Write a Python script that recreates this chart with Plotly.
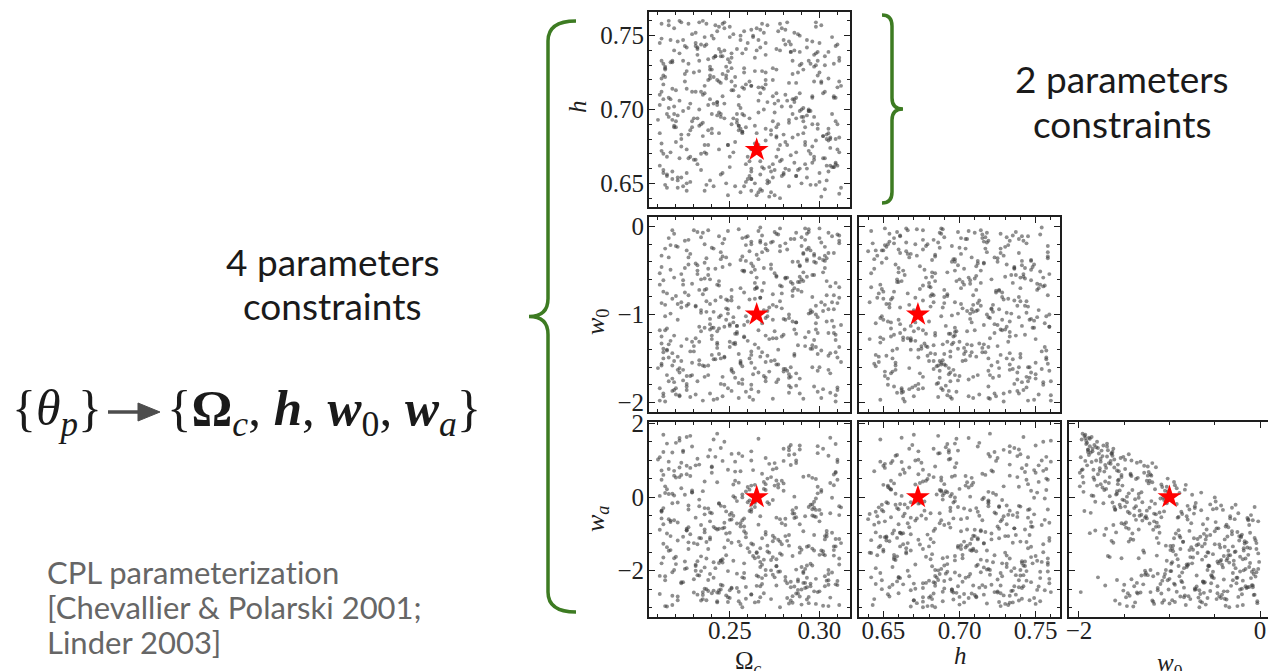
import plotly.graph_objects as go

W, H = 1268, 671

# Prior samples of the four CPL cosmological parameters (one entry per sample)
omega_c = [
    .231, .287, .254, .219, .302, .268, .243, .295, .212, .276, .261, .238, .308, .225, .283, .249, .271, .216, .299, .257,
    .292, .224, .266, .241, .311, .233, .279, .252, .218, .305, .246, .288, .227, .263, .297, .214, .274, .236, .259, .301,
    .248, .306, .221, .284, .239, .262, .213, .293, .272, .229, .256, .310, .244, .267, .222, .289, .235, .281, .253, .217,
    .277, .245, .298, .226, .264, .309, .237, .251, .286, .215, .269, .232, .303, .258, .291, .220, .275, .247, .307, .234,
    .260, .213, .282, .250, .296, .228, .270, .304, .242, .285, .211, .265, .239, .294, .255, .223, .300, .273, .230, .289,
    .218, .303, .240, .278, .256, .212, .291, .246, .268, .225, .309, .262, .283, .236, .297, .249, .216, .280, .258, .311,
    .271, .235, .300, .221, .287, .253, .243, .306, .227, .264, .292, .219, .274, .248, .232, .299, .261, .214, .285, .241,
    .305, .250, .226, .276, .213, .294, .259, .237, .283, .311, .245, .269, .222, .302, .254, .290, .233, .266, .217, .279,
    .244, .288, .262, .210, .298, .231, .273, .255, .220, .307, .239, .284, .265, .228, .295, .247, .278, .312, .236, .257,
    .224, .296, .251, .282, .215, .267, .240, .304, .229, .275, .258, .293, .218, .249, .310, .234, .270, .286, .221, .263,
    .299, .238, .272, .216, .290, .255, .227, .308, .264, .243, .281, .212, .297, .252, .235, .277, .301, .219, .268, .246,
    .257, .310, .233, .265, .246, .284, .211, .273, .296, .237, .260, .303, .224, .288, .250, .214, .292, .241, .279, .226,
    .282, .221, .297, .243, .276, .230, .307, .253, .217, .269, .289, .236, .258, .311, .229, .266, .247, .295, .213, .274,
    .236, .270, .215, .301, .259, .287, .242, .223, .294, .263, .211, .280, .248, .305, .271, .226, .285, .254, .309, .232,
    .266, .244, .289, .227, .309, .251, .275, .212, .283, .240, .298, .256, .222, .277, .244, .302, .218, .261, .291, .238,
    .213, .294, .255, .281, .234, .262, .298, .245, .219, .286, .267, .231, .306, .252, .278, .215, .293, .239, .270, .304,
    .285, .228, .268, .310, .241, .217, .274, .300, .257, .233, .295, .249, .271, .220, .287, .262, .236, .309, .247, .278,
    .249, .302, .223, .260, .290, .269, .235, .286, .212, .312, .244, .276, .259, .299, .238, .281, .226, .266, .293, .216,
    .293, .262, .240, .214, .277, .304, .252, .228, .288, .267, .223, .301, .243, .264, .211, .291, .254, .232, .284, .308,
    .229, .276, .311, .256, .237, .283, .218, .296, .270, .247, .306, .231, .289, .215, .258, .275, .300, .245, .223, .261,
    .274, .216, .287, .242, .298, .226, .264, .251, .309, .234, .280, .257, .213, .296, .268, .240, .285, .219, .303, .250,
    .238, .291, .259, .308, .221, .273, .246, .212, .284, .262, .230, .297, .255, .278, .224, .311, .243, .267, .236, .289,
    .303, .253, .225, .272, .290, .239, .281, .266, .227, .299, .248, .214, .276, .258, .305, .232, .262, .294, .250, .220,
    .256, .280, .305, .233, .262, .211, .296, .244, .274, .218, .287, .265, .310, .241, .226, .283, .251, .213, .270, .298,
    .219, .245, .279, .297, .251, .308, .234, .270, .257, .292, .239, .222, .264, .286, .245, .212, .305, .276, .231, .267,
]

h = [
    .712, .655, .741, .688, .667, .726, .703, .649, .758, .681, .694, .734, .661, .719, .746, .676, .652, .708, .739, .685,
    .663, .747, .698, .722, .643, .689, .755, .671, .714, .658, .736, .683, .701, .749, .666, .728, .692, .645, .717, .757,
    .729, .681, .652, .744, .707, .660, .723, .696, .641, .751, .687, .715, .673, .656, .738, .699, .760, .678, .648, .732,
    .690, .718, .759, .657, .677, .743, .649, .735, .705, .668, .752, .694, .646, .725, .684, .713, .659, .740, .697, .670,
    .745, .670, .706, .732, .690, .651, .717, .680, .757, .697, .662, .740, .727, .672, .703, .654, .745, .686, .725, .660,
    .653, .736, .684, .665, .750, .712, .695, .758, .645, .724, .708, .653, .691, .743, .668, .734, .701, .656, .753, .719,
    .705, .691, .725, .647, .718, .678, .753, .662, .731, .689, .676, .755, .709, .650, .742, .687, .665, .729, .681, .748,
    .739, .661, .673, .711, .659, .700, .688, .744, .693, .735, .656, .714, .760, .682, .697, .650, .733, .706, .671, .702,
    .684, .751, .716, .693, .738, .666, .644, .709, .678, .749, .721, .669, .684, .704, .731, .759, .676, .647, .716, .738,
    .648, .708, .738, .676, .655, .754, .727, .683, .712, .642, .696, .747, .658, .726, .662, .690, .720, .752, .696, .674,
    .723, .676, .661, .757, .700, .686, .667, .731, .650, .720, .744, .677, .737, .694, .710, .673, .641, .697, .758, .709,
    .697, .744, .700, .642, .724, .739, .710, .658, .746, .670, .653, .730, .699, .659, .756, .722, .688, .735, .666, .650,
    .759, .654, .729, .705, .682, .694, .661, .722, .707, .660, .739, .711, .648, .733, .688, .644, .755, .670, .707, .728,
    .671, .725, .647, .719, .741, .655, .736, .675, .699, .750, .684, .657, .721, .679, .650, .742, .707, .691, .664, .741,
    .715, .698, .750, .683, .663, .728, .704, .748, .659, .687, .730, .701, .667, .753, .719, .682, .733, .655, .701, .686,
    .657, .733, .689, .754, .712, .673, .649, .695, .740, .707, .665, .752, .680, .713, .740, .697, .660, .723, .745, .652,
    .733, .668, .715, .690, .648, .747, .720, .657, .685, .726, .699, .642, .757, .692, .671, .716, .749, .680, .694, .758,
    .676, .711, .759, .668, .731, .700, .682, .740, .672, .716, .756, .688, .651, .733, .703, .660, .714, .747, .654, .695,
    .742, .645, .697, .727, .706, .662, .751, .686, .725, .646, .680, .718, .696, .674, .745, .727, .693, .663, .739, .708,
    .692, .727, .681, .644, .758, .718, .693, .664, .737, .704, .674, .745, .711, .656, .728, .698, .651, .736, .683, .719,
    .654, .760, .708, .736, .679, .645, .726, .713, .692, .659, .747, .684, .731, .709, .661, .750, .724, .689, .712, .668,
    .720, .692, .663, .709, .746, .683, .657, .733, .702, .754, .666, .719, .689, .640, .733, .671, .705, .742, .676, .730,
    .667, .716, .743, .651, .695, .729, .710, .676, .758, .690, .723, .649, .741, .714, .684, .737, .658, .699, .749, .688,
    .747, .683, .721, .759, .653, .703, .675, .741, .663, .732, .694, .755, .673, .704, .726, .648, .690, .717, .679, .756,
    .702, .739, .655, .695, .719, .661, .744, .687, .715, .678, .652, .706, .735, .664, .697, .721, .687, .668, .743, .711,
]

w0 = [
    -0.42, -1.67, -1.13, -0.08, -1.85, -0.73, -1.38, -0.27, -1.56, -0.91, -1.94, -0.55, -1.21, -0.16, -1.72, -0.84, -1.47, -0.35, -1.03, -1.79,
    -1.26, -0.61, -1.88, -0.97, -0.19, -1.52, -0.68, -1.09, -0.04, -1.63, -0.46, -1.35, -0.88, -1.97, -0.31, -1.18, -0.77, -1.59, -0.12, -1.41,
    -0.83, -1.44, -0.23, -1.71, -1.05, -0.52, -1.90, -0.37, -1.28, -0.65, -1.53, -0.09, -1.16, -0.81, -1.66, -0.44, -1.98, -0.58, -1.32, -0.21,
    -1.57, -0.29, -1.00, -1.82, -0.49, -1.23, -0.71, -1.62, -0.14, -1.40, -0.95, -1.76, -0.33, -1.12, -0.62, -1.91, -0.06, -1.49, -0.86, -1.19,
    -0.11, -1.93, -0.58, -1.31, -0.80, -1.70, -0.25, -1.08, -1.51, -0.40, -1.84, -0.70, -1.17, -0.03, -1.45, -0.92, -1.60, -0.18, -1.36, -0.63,
    -1.73, -0.47, -1.24, -0.02, -1.55, -0.87, -1.96, -0.34, -1.10, -0.75, -1.43, -0.20, -1.81, -0.59, -1.29, -0.99, -0.13, -1.65, -0.51, -1.37,
    -0.96, -1.58, -0.36, -1.48, -0.07, -1.22, -0.66, -1.89, -0.43, -1.34, -0.15, -1.77, -0.89, -1.06, -0.54, -1.64, -0.28, -1.99, -0.79, -1.15,
    -0.30, -1.11, -1.79, -0.56, -1.39, -0.24, -1.02, -0.85, -1.68, -0.10, -1.50, -0.64, -1.92, -0.38, -1.20, -0.74, -1.57, -0.05, -1.30, -0.93,
    -1.45, -0.72, -0.17, -1.61, -0.90, -1.27, -0.48, -1.95, -0.22, -1.07, -0.60, -1.83, -0.32, -1.42, -0.98, -1.14, -0.67, -1.54, -0.41, -1.74,
    -0.66, -1.35, -1.87, -0.26, -1.16, -0.01, -1.46, -0.78, -1.69, -0.53, -1.25, -0.39, -1.58, -0.94, -1.86, -0.12, -1.04, -0.70, -1.63, -0.45,
    -1.21, -0.04, -0.92, -1.49, -0.60, -1.78, -0.35, -1.14, -0.82, -1.96, -0.19, -1.33, -0.55, -1.66, -0.07, -1.40, -0.86, -1.24, -0.29, -1.71,
    -0.50, -1.83, -1.31, -0.69, -1.93, -0.14, -1.18, -0.43, -1.60, -0.97, -1.08, -0.23, -1.75, -0.63, -1.37, -0.89, -0.02, -1.51, -0.76, -1.28,
    -1.64, -0.88, -0.33, -1.19, -0.57, -1.42, -0.11, -1.72, -0.99, -0.47, -1.90, -0.72, -1.26, -0.16, -1.55, -0.37, -1.80, -0.95, -0.61, -1.06,
    -0.20, -1.54, -0.76, -1.95, -0.39, -1.09, -0.84, -1.36, -0.06, -1.68, -0.53, -1.23, -0.93, -1.47, -0.27, -1.86, -0.65, -1.13, -1.99, -0.44,
    -1.38, -0.62, -1.73, -0.15, -1.29, -0.80, -1.52, -0.46, -1.89, -0.24, -1.17, -0.70, -1.61, -0.09, -1.03, -0.52, -1.44, -0.83, -0.31, -1.58,
    -0.74, -1.20, -0.03, -1.62, -0.95, -1.85, -0.41, -1.01, -0.58, -1.47, -0.18, -1.91, -0.68, -1.33, -0.85, -1.69, -0.26, -1.11, -1.76, -0.36,
    -1.08, -0.31, -1.43, -0.87, -1.97, -0.49, -1.27, -0.13, -1.59, -0.72, -1.39, -0.05, -1.02, -0.79, -1.81, -0.42, -1.15, -0.64, -1.48, -0.22,
    -1.84, -0.96, -0.54, -1.30, -0.12, -1.70, -0.77, -1.45, -0.33, -1.12, -0.67, -1.57, -0.21, -1.88, -0.48, -1.06, -0.90, -1.66, -0.08, -1.34,
    -0.57, -1.46, -1.15, -0.25, -1.74, -0.62, -1.03, -1.94, -0.40, -0.81, -1.53, -0.18, -1.32, -0.71, -1.98, -0.30, -1.22, -0.50, -1.60, -0.94,
    -1.31, -0.08, -0.69, -1.56, -0.36, -1.00, -1.87, -0.55, -1.24, -0.14, -1.67, -0.91, -0.45, -1.41, -0.75, -1.19, -0.02, -1.79, -0.86, -1.50,
    -0.17, -1.76, -1.09, -0.48, -1.37, -0.27, -1.61, -0.84, -1.92, -0.60, -1.05, -0.34, -1.50, -0.97, -0.10, -1.28, -0.73, -1.86, -0.39, -1.13,
    -1.69, -0.52, -1.88, -0.78, -1.06, -1.53, -0.19, -1.25, -0.63, -1.42, -0.04, -1.82, -0.92, -0.28, -1.63, -0.81, -1.34, -0.16, -1.71, -0.57,
    -0.89, -1.34, -0.47, -1.65, -0.22, -1.90, -0.59, -1.18, -0.78, -1.45, -0.35, -1.02, -1.77, -0.50, -1.21, -0.06, -1.55, -0.99, -0.43, -1.84,
    -0.38, -1.62, -0.94, -1.14, -1.80, -0.66, -1.39, -0.11, -1.96, -0.82, -1.22, -0.58, -1.49, -0.25, -1.70, -1.04, -0.72, -1.43, -0.20, -1.10,
    -1.53, -0.80, -1.25, -0.40, -1.64, -0.30, -0.98, -1.72, -0.13, -1.36, -0.88, -1.93, -0.64, -1.17, -0.37, -1.58, -0.07, -1.27, -0.90, -1.48,
]

wa = [
    -1.84, 0.92, -2.47, -0.63, 1.31, -1.12, -2.86, -0.21, 0.47, -1.69, -0.38, -2.55, 0.61, -1.95, -1.03, -2.72, -0.14, -1.46, 0.28, -2.18,
    -0.52, -2.31, 1.58, -1.77, -2.93, -0.07, -1.28, 0.34, -2.04, 1.12, -0.85, -2.62, -1.41, 0.73, -0.29, -2.15, -1.63, -0.96, -2.44, 0.19,
    -2.67, -0.44, -1.18, 0.87, -2.09, -0.33, 1.22, -2.78, -1.51, 0.12, -0.71, -2.39, -0.18, -1.90, 0.54, -1.37, -2.58, -0.59, 0.96, -1.06,
    0.35, -1.73, -2.22, -0.91, -0.12, 0.68, -2.50, -1.24, -0.57, -2.97, 0.41, 1.04, -1.58, -0.80, -2.33, 1.47, -1.11, -0.26, -2.05, -2.81,
    -1.39, 1.69, -2.74, -0.48, -1.86, 0.79, -0.95, -2.27, 1.09, -1.60, 0.03, -2.13, -0.66, -2.88, -1.21, 0.24, -0.35, -1.99, -2.59, -0.74,
    -0.17, -2.42, 0.83, -1.53, -2.90, -0.40, 0.55, -1.78, -2.36, 0.06, -1.14, -2.64, 1.35, -0.88, -1.45, -2.01, -0.60, 0.98, -2.20, -0.25,
    -1.32, 0.16, -2.56, -0.69, -1.97, 0.44, -2.83, 1.61, -0.23, -1.66, -2.47, 0.71, -1.05, -0.39, -2.12, 1.19, -1.49, 0.29, -2.69, -0.81,
    -2.26, -0.97, 0.62, -1.87, -0.30, -2.71, 0.15, -1.22, 1.27, -0.49, -2.38, -1.70, 1.53, -2.95, -0.11, -1.43, 0.88, -2.16, -0.64, -1.57,
    -0.86, -2.52, -1.26, 1.02, -0.54, -2.00, -2.77, 0.39, -1.62, -0.02, -1.15, 1.41, -2.41, 0.57, -1.81, -0.70, -2.99, -0.28, -1.91, 1.11,
    -1.08, 0.52, -0.43, -2.34, 0.21, -1.76, -2.61, -0.92, 1.37, -2.18, -0.58, -1.35, 0.09, -2.85, 0.95, -0.76, -1.98, -2.43, -0.15, -1.29,
    -2.58, -1.41, -0.19, 0.76, -2.92, 1.18, -0.82, -1.59, 0.33, 1.72, -2.27, -0.37, -1.03, 0.02, -2.66, -1.16, -0.46, 0.58, -1.84, -2.40,
    -0.01, 0.47, -2.13, -1.52, 0.98, -2.45, -0.89, -1.71, -0.33, -2.80, 0.27, -1.06, 1.26, -2.29, -0.62, 0.11, -1.95, -2.54, -0.71, 0.85,
    -1.19, -2.70, -0.52, 0.40, -1.88, -2.23, -0.97, 0.69, -1.44, -2.61, 1.29, -0.30, -2.06, -1.67, 0.18, -0.75, 1.50, -2.35, -1.27, -0.08,
    -2.49, 1.06, -1.36, 0.14, -2.76, -0.55, -1.93, 0.93, -0.27, -1.60, -2.14, 0.37, -0.99, -2.96, -1.48, 1.63, -0.36, -2.08, 0.66, -1.74,
    -0.06, -2.60, 1.40, -1.23, -2.37, -0.61, 0.31, -1.80, 1.14, -0.44, -2.90, -1.31, 0.80, -2.03, -0.17, -1.55, -2.68, 0.20, -0.93, -2.25,
    -1.64, 0.58, -2.83, -0.76, -1.12, 1.24, -0.35, -2.51, -1.98, 0.01, -1.39, 0.86, -2.73, -0.51, -1.21, 1.45, -2.19, -0.42, 0.35, -1.07,
    -2.87, -1.01, 0.63, -2.28, 1.56, -0.68, -2.11, -1.57, 0.07, -0.25, -2.42, -1.17, 0.50, -1.82, 0.99, -2.65, -0.47, -1.34, -0.83, -2.02,
    0.74, -1.47, -2.34, -0.14, -1.90, 0.22, -2.77, 1.16, -0.58, -1.25, -2.53, 0.45, -1.09, 1.38, -0.31, -2.17, -0.90, -1.63, -2.45, 0.08,
    -1.86, -0.40, 0.81, -2.96, 0.26, -1.00, -1.73, 1.66, -2.24, -0.52, 0.60, -1.45, -2.59, -0.16, 1.08, -2.06, -0.72, -1.28, -2.81, 0.32,
    0.13, -2.40, -1.14, 0.70, -1.67, -2.89, 1.21, -0.20, -2.12, -1.37, 0.38, -0.56, -2.70, -0.99, -1.80, 0.92, -0.66, 1.33, -2.31, -0.09,
    -1.20, 0.96, -2.62, -0.85, 0.49, -1.93, -0.27, -2.46, 1.44, -1.61, 0.17, -2.99, -0.74, -1.40, -2.20, 0.66, -0.45, 0.04, -1.15, -2.53,
    1.10, -2.03, -0.98, -1.44, -2.80, 0.54, -1.69, -0.37, -2.30, 0.99, -1.25, -0.13, -2.57, -0.60, 1.22, -1.83, -0.88, -2.42, 0.42, -1.51,
    -2.15, -0.02, -1.75, 0.90, -2.51, 1.28, -1.06, -2.84, -0.34, 0.10, -1.58, -2.26, 0.78, -0.93, -1.98, -2.65, -0.21, -1.33, -2.74, 0.53,
    -0.80, 1.31, -2.38, -1.11, 0.31, -2.63, -0.50, -1.79, 0.75, -2.93, -0.29, -1.50, 1.01, -2.19, -0.86, -1.32, -2.48, 0.60, -1.02, -0.04,
    -1.66, -0.24, 0.44, -2.56, 1.17, -1.34, -2.01, 0.19, -0.63, -2.33, -1.10, 1.60, -2.86, -0.45, -1.72, 0.72, -2.09, -0.56, -1.87, -2.72,
]

# Fiducial cosmology marked with a star in every panel
fiducial = {"omega_c": 0.265, "h": 0.6727, "w0": -1.0, "wa": 0.0}

samples = {"omega_c": omega_c, "h": h, "w0": w0, "wa": wa}

axis_range = {
    "omega_c": [0.205, 0.317],
    "h": [0.634, 0.766],
    "w0": [-2.11, 0.11],
    "wa": [-3.256, 2.036],
}
major_ticks = {
    "omega_c": [0.25, 0.30],
    "h": [0.65, 0.70, 0.75],
    "w0": [-2, -1, 0],
    "wa": [-2, 0, 2],
}
minor_step = {"omega_c": 0.01, "h": 0.01, "w0": 0.2, "wa": 0.5}
tick_format = {"omega_c": ".2f", "h": ".2f", "w0": "d", "wa": "d"}

# Lower-triangle layout: (x param, y param, left, right, top, bottom [px], x labels, y labels)
panels = [
    ("omega_c", "h", 649, 850, 12, 207, False, True),
    ("omega_c", "w0", 649, 850, 217, 412, False, True),
    ("h", "w0", 859, 1060, 217, 412, False, False),
    ("omega_c", "wa", 649, 850, 422, 617, True, True),
    ("h", "wa", 859, 1060, 422, 617, True, False),
    ("w0", "wa", 1069, 1270, 422, 617, True, False),
]

INK = "#1e1e1e"
SERIF = "Liberation Serif"
GREEN = "#3d7b22"
ZWNJ = "\u200c"  # keeps "t" and "i" from merging into a ligature


def fx(x):
    return x / W


def fy(y):
    return 1 - y / H


fig = go.Figure()
layout_axes = {}

for i, (xp, yp, left, right, top, bottom, xlab, ylab) in enumerate(panels, start=1):
    suffix = "" if i == 1 else str(i)
    xr = list(axis_range[xp])
    right_vis = min(right, W)
    if right_vis < right:
        xr[1] = xr[0] + (xr[1] - xr[0]) * (right_vis - left) / (right - left)

    if xp == "w0":
        xticks, xminor = [-2, 0], 0.5
    else:
        xticks, xminor = major_ticks[xp], minor_step[xp]

    common = dict(
        showline=True, linecolor=INK, linewidth=1.8,
        ticks="inside", ticklen=6, tickwidth=1, tickcolor=INK,
        showgrid=False, zeroline=False, automargin=False, fixedrange=True,
        tickfont=dict(family=SERIF, size=25, color="#222"),
        tickmode="array",
    )
    layout_axes["xaxis" + suffix] = dict(
        common, domain=[fx(left), fx(right_vis)], range=xr, anchor="y" + suffix,
        mirror="allticks", tickvals=xticks, tickformat=tick_format[xp],
        showticklabels=xlab, ticklabelstandoff=-10,
        minor=dict(tickmode="linear", tick0=0, dtick=xminor, ticks="inside",
                   ticklen=3, tickwidth=1, tickcolor=INK, showgrid=False),
    )
    layout_axes["yaxis" + suffix] = dict(
        common, domain=[fy(bottom), fy(top)], range=axis_range[yp], anchor="x" + suffix,
        mirror="allticks" if right <= W else False,
        tickvals=major_ticks[yp], tickformat=tick_format[yp],
        showticklabels=ylab, ticklabelstandoff=-2,
        minor=dict(tickmode="linear", tick0=0, dtick=minor_step[yp], ticks="inside",
                   ticklen=3, tickwidth=1, tickcolor=INK, showgrid=False),
    )

    fig.add_trace(go.Scatter(
        x=samples[xp], y=samples[yp], mode="markers",
        marker=dict(size=3.9, color="rgba(60,60,60,0.58)", line=dict(width=0)),
        xaxis="x" + suffix, yaxis="y" + suffix, hoverinfo="skip",
    ))
    fig.add_trace(go.Scatter(
        x=[fiducial[xp]], y=[fiducial[yp]], mode="markers",
        marker=dict(symbol="star", size=18, color="#ff0000", line=dict(width=0)),
        xaxis="x" + suffix, yaxis="y" + suffix, hoverinfo="skip",
    ))


def brace_path(xv, xe, xt, yt, yb, r_end, r_mid):
    ym = (yt + yb) / 2
    pts = [
        ("M", [(xe, yt)]),
        ("Q", [(xv, yt), (xv, yt + r_end)]),
        ("L", [(xv, ym - r_mid)]),
        ("Q", [(xv, ym), (xt, ym)]),
        ("Q", [(xv, ym), (xv, ym + r_mid)]),
        ("L", [(xv, yb - r_end)]),
        ("Q", [(xv, yb), (xe, yb)]),
    ]
    return " ".join(
        cmd + " " + " ".join(f"{fx(x):.5f},{fy(y):.5f}" for x, y in p) for cmd, p in pts
    )


shapes = [
    dict(type="path", xref="paper", yref="paper",
         path=brace_path(548, 576, 529, 21, 612, 20, 18),
         line=dict(color=GREEN, width=3.5)),
    dict(type="path", xref="paper", yref="paper",
         path=brace_path(892, 882, 903, 15, 203, 11, 11),
         line=dict(color=GREEN, width=3.5)),
    # mapping arrow between the two parameter sets
    dict(type="line", xref="paper", yref="paper",
         x0=fx(108), x1=fx(142), y0=fy(412), y1=fy(412),
         line=dict(color="#4d4d4d", width=3.5)),
    dict(type="path", xref="paper", yref="paper",
         path=f"M {fx(138):.5f},{fy(403):.5f} L {fx(160):.5f},{fy(412):.5f} "
              f"L {fx(138):.5f},{fy(421):.5f} Z",
         fillcolor="#4d4d4d", line=dict(color="#4d4d4d", width=1)),
]


def text(x, y, s, size, color="#1a1a1a", family="Lato", xanchor="center", angle=0):
    return dict(x=fx(x), y=fy(y), xref="paper", yref="paper", text=s, showarrow=False,
                xanchor=xanchor, yanchor="middle", textangle=angle,
                font=dict(family=family, size=size, color=color))


annotations = [
    # axis titles
    text(578, 107, "<i>h</i>", 25, INK, SERIF, angle=-90),
    text(597, 322, "<i>w</i><sub>0</sub>", 26, INK, SERIF, angle=-90),
    text(597, 519, "<i>w</i><sub><i>a</i></sub>", 26, INK, SERIF, angle=-90),
    text(748, 662, "Ω<sub><i>c</i></sub>", 25, INK, SERIF),
    text(960, 655, "<i>h</i>", 25, INK, SERIF),
    text(1170, 664, "<i>w</i><sub>0</sub>", 25, INK, SERIF),
    # parameter mapping
    text(10, 412, "{<i>θ</i><sub><i>p</i></sub>}", 50, "#1a1a1a", SERIF, xanchor="left"),
    text(165, 412, "{<b>Ω</b><sub><i>c</i></sub>, <b><i>h</i></b>, <b><i>w</i></b><sub>0</sub>, "
                   "<b><i>w</i></b><sub><i>a</i></sub>}", 51, "#1a1a1a", SERIF, xanchor="left"),
    # brace captions
    text(333, 261, "4 parameters", 37),
    text(333, 305, f"constrain{ZWNJ}ts", 37),
    text(1122, 79, "2 parameters", 37),
    text(1122, 123, f"constrain{ZWNJ}ts", 37),
    # reference note
    text(45, 572, f"CPL parameteriza{ZWNJ}t{ZWNJ}ion", 31, "#666666", xanchor="left"),
    text(45, 607, "[Chevallier &amp; Polarski 2001;", 31, "#666666", xanchor="left"),
    text(45, 642, "Linder 2003]", 31, "#666666", xanchor="left"),
]

fig.update_layout(
    width=W, height=H, autosize=False,
    margin=dict(l=0, r=0, t=0, b=0, pad=0),
    paper_bgcolor="white", plot_bgcolor="white",
    showlegend=False,
    shapes=shapes, annotations=annotations,
    **layout_axes,
)

fig.write_html("out.html", config={"displayModeBar": False})
